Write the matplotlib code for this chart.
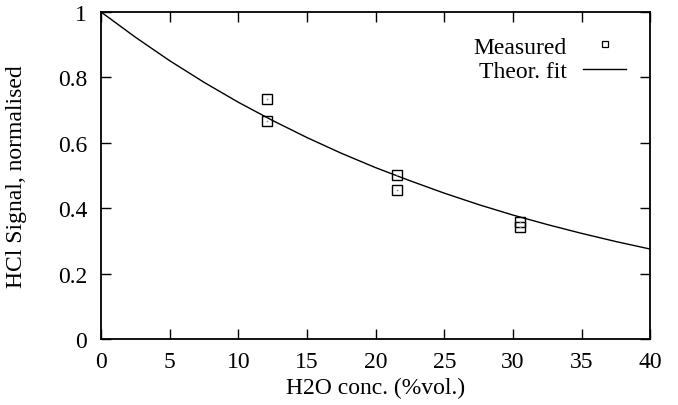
import matplotlib
matplotlib.use("Agg")
import matplotlib.pyplot as plt
from matplotlib.lines import Line2D

# Measured data
meas_x = [12.1, 12.1, 21.55, 21.55, 30.5, 30.5]
meas_y = [0.734, 0.668, 0.502, 0.456, 0.359, 0.341]

# Theoretical fit curve
fit_x = [0, 2.5, 5, 7.5, 10, 12.5, 15, 17.5, 20, 22.5, 25, 27.5, 30, 32.5, 35, 37.5, 40]
fit_y = [1.0, 0.923, 0.851, 0.785, 0.724, 0.668, 0.616, 0.568, 0.524, 0.484,
         0.446, 0.411, 0.379, 0.350, 0.323, 0.298, 0.275]

x_ticks = [0, 5, 10, 15, 20, 25, 30, 35, 40]
y_ticks = [0, 0.2, 0.4, 0.6, 0.8, 1]
y_tick_labels = ["0", "0.2", "0.4", "0.6", "0.8", "1"]

plt.rcParams['font.family'] = ['Liberation Serif', 'DejaVu Serif']

FS = 17

fig = plt.figure(figsize=(6.78, 4.06), dpi=100)
ax = fig.add_axes([0.149, 0.1626, 0.810, 0.8054])

ax.plot(fit_x, fit_y, color='black', linewidth=1.0, zorder=2)
ax.plot(meas_x, meas_y, linestyle='none', marker='s', markersize=7,
        markerfacecolor='none', markeredgecolor='black', markeredgewidth=1.0,
        zorder=3)
ax.plot(meas_x, meas_y, linestyle='none', marker='o', markersize=1.2,
        markerfacecolor='#888888', markeredgecolor='none', zorder=3)

ax.set_xlim(0, 40)
ax.set_ylim(0, 1)
ax.set_xticks(x_ticks)
ax.set_xticklabels([str(v) for v in x_ticks])
ax.set_yticks(y_ticks)
ax.set_yticklabels(y_tick_labels)

ax.tick_params(direction='in', length=7, width=1.0, top=True, right=True,
               labelsize=FS)
ax.tick_params(axis='x', pad=9)
ax.tick_params(axis='y', pad=10)
for s in ax.spines.values():
    s.set_linewidth(1.3)

ax.set_xlabel('H2O conc. (%vol.)', fontsize=FS, labelpad=3.5)
ax.set_ylabel('HCl Signal, normalised', fontsize=FS, labelpad=22)

h_meas = Line2D([], [], linestyle='none', marker='s', markersize=5,
                markerfacecolor='none', markeredgecolor='black', markeredgewidth=0.9)
h_fit = Line2D([], [], color='black', linewidth=1.0)
ax.legend([h_meas, h_fit], ['Measured', 'Theor. fit'], loc='upper right',
          frameon=False, markerfirst=False, fontsize=FS, handlelength=1.82,
          bbox_to_anchor=(626 / 678, 1 - 37 / 406), bbox_transform=fig.transFigure,
          labelspacing=0.12, handletextpad=0.68, borderpad=0.0, borderaxespad=0.0)

fig.savefig('out.png', dpi=100)
